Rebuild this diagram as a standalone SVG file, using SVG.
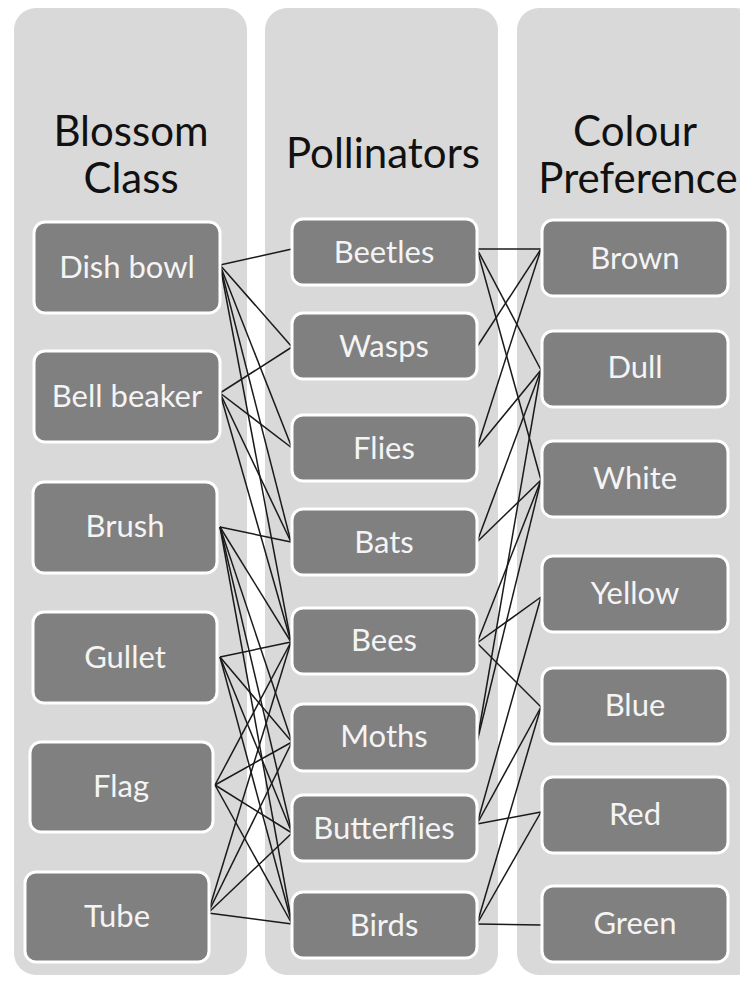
<svg xmlns="http://www.w3.org/2000/svg" width="740" height="981" viewBox="0 0 740 981">
<style>
.panel{fill:#d9d9d9}
.node{fill:#808080;stroke:#ffffff;stroke-width:3}
.hd{font-family:Lato,"Liberation Sans",sans-serif;font-size:42px;fill:#111111;text-anchor:middle}
.lb{font-family:Lato,"Liberation Sans",sans-serif;font-size:31px;fill:#f4f4f4;text-anchor:middle}
.cn line{stroke:#1a1a1a;stroke-width:1.5}
</style>
<rect width="740" height="981" fill="#ffffff"/>
<g id="panels">
<rect class="panel" x="14" y="8" width="233" height="967" rx="22"/>
<rect class="panel" x="265" y="8" width="233" height="967" rx="22"/>
<rect class="panel" x="517" y="8" width="240" height="967" rx="22"/>
</g>
<g id="headers">
<text class="hd" x="131" y="146">Blossom</text>
<text class="hd" x="131" y="193">Class</text>
<text class="hd" x="383" y="168">Pollinators</text>
<text class="hd" x="635" y="146">Colour</text>
<text class="hd" x="638" y="193">Preference</text>
</g>
<g class="cn" id="connectors">
<line x1="220" y1="265" x2="292" y2="249"/>
<line x1="220" y1="265" x2="292" y2="347"/>
<line x1="220" y1="265" x2="292" y2="448"/>
<line x1="220" y1="265" x2="291" y2="542"/>
<line x1="220" y1="265" x2="291" y2="642"/>
<line x1="220" y1="393" x2="292" y2="347"/>
<line x1="220" y1="393" x2="292" y2="448"/>
<line x1="220" y1="393" x2="291" y2="542"/>
<line x1="220" y1="393" x2="291" y2="642"/>
<line x1="220" y1="527" x2="291" y2="542"/>
<line x1="220" y1="527" x2="291" y2="642"/>
<line x1="220" y1="527" x2="292" y2="742"/>
<line x1="220" y1="527" x2="292" y2="833"/>
<line x1="220" y1="527" x2="292" y2="924"/>
<line x1="220" y1="657" x2="291" y2="642"/>
<line x1="220" y1="657" x2="292" y2="742"/>
<line x1="220" y1="657" x2="292" y2="833"/>
<line x1="220" y1="657" x2="292" y2="924"/>
<line x1="215" y1="785" x2="291" y2="642"/>
<line x1="215" y1="785" x2="292" y2="742"/>
<line x1="215" y1="785" x2="292" y2="833"/>
<line x1="215" y1="785" x2="292" y2="924"/>
<line x1="208" y1="913" x2="291" y2="642"/>
<line x1="208" y1="913" x2="292" y2="742"/>
<line x1="208" y1="913" x2="292" y2="833"/>
<line x1="208" y1="913" x2="292" y2="924"/>
<line x1="477" y1="249" x2="541" y2="249"/>
<line x1="477" y1="249" x2="541" y2="370"/>
<line x1="477" y1="249" x2="541" y2="480"/>
<line x1="477" y1="347" x2="541" y2="249"/>
<line x1="477" y1="448" x2="541" y2="249"/>
<line x1="477" y1="448" x2="541" y2="370"/>
<line x1="477" y1="542" x2="541" y2="370"/>
<line x1="477" y1="542" x2="541" y2="480"/>
<line x1="477" y1="643" x2="541" y2="480"/>
<line x1="477" y1="643" x2="541" y2="597"/>
<line x1="477" y1="643" x2="541" y2="707"/>
<line x1="477" y1="742" x2="541" y2="370"/>
<line x1="477" y1="742" x2="541" y2="480"/>
<line x1="477" y1="824" x2="541" y2="597"/>
<line x1="477" y1="824" x2="541" y2="707"/>
<line x1="477" y1="824" x2="541" y2="812"/>
<line x1="477" y1="924" x2="541" y2="707"/>
<line x1="477" y1="924" x2="541" y2="812"/>
<line x1="477" y1="924" x2="541" y2="925"/>
</g>
<g id="n-dishbowl"><rect class="node" x="34" y="222" width="186" height="91" rx="11"/><text class="lb" x="127" y="278">Dish bowl</text></g>
<g id="n-bellbeaker"><rect class="node" x="34" y="351" width="186" height="91" rx="11"/><text class="lb" x="127" y="407">Bell beaker</text></g>
<g id="n-brush"><rect class="node" x="33" y="482" width="184" height="91" rx="11"/><text class="lb" x="125" y="537">Brush</text></g>
<g id="n-gullet"><rect class="node" x="33" y="612" width="184" height="91" rx="11"/><text class="lb" x="125" y="668">Gullet</text></g>
<g id="n-flag"><rect class="node" x="30" y="742" width="183" height="90" rx="11"/><text class="lb" x="121" y="797">Flag</text></g>
<g id="n-tube"><rect class="node" x="25" y="872" width="184" height="90" rx="11"/><text class="lb" x="117" y="927">Tube</text></g>
<g id="n-beetles"><rect class="node" x="292" y="219" width="185" height="66" rx="11"/><text class="lb" x="384" y="263">Beetles</text></g>
<g id="n-wasps"><rect class="node" x="292" y="313" width="185" height="66" rx="11"/><text class="lb" x="384" y="357">Wasps</text></g>
<g id="n-flies"><rect class="node" x="292" y="415" width="185" height="66" rx="11"/><text class="lb" x="384" y="459">Flies</text></g>
<g id="n-bats"><rect class="node" x="292" y="509" width="185" height="66" rx="11"/><text class="lb" x="384" y="553">Bats</text></g>
<g id="n-bees"><rect class="node" x="292" y="608" width="185" height="66" rx="11"/><text class="lb" x="384" y="651">Bees</text></g>
<g id="n-moths"><rect class="node" x="292" y="704" width="185" height="67" rx="11"/><text class="lb" x="384" y="747">Moths</text></g>
<g id="n-butterflies"><rect class="node" x="292" y="795" width="185" height="66" rx="11"/><text class="lb" x="384" y="839">Butterflies</text></g>
<g id="n-birds"><rect class="node" x="292" y="892" width="185" height="66" rx="11"/><text class="lb" x="384" y="936">Birds</text></g>
<g id="n-brown"><rect class="node" x="542" y="220" width="186" height="76" rx="11"/><text class="lb" x="635" y="269">Brown</text></g>
<g id="n-dull"><rect class="node" x="542" y="331" width="186" height="76" rx="11"/><text class="lb" x="635" y="378">Dull</text></g>
<g id="n-white"><rect class="node" x="542" y="441" width="186" height="76" rx="11"/><text class="lb" x="635" y="489">White</text></g>
<g id="n-yellow"><rect class="node" x="542" y="556" width="186" height="76" rx="11"/><text class="lb" x="635" y="604">Yellow</text></g>
<g id="n-blue"><rect class="node" x="542" y="668" width="186" height="76" rx="11"/><text class="lb" x="635" y="716">Blue</text></g>
<g id="n-red"><rect class="node" x="542" y="777" width="186" height="76" rx="11"/><text class="lb" x="635" y="825">Red</text></g>
<g id="n-green"><rect class="node" x="542" y="886" width="186" height="76" rx="11"/><text class="lb" x="635" y="934">Green</text></g>
</svg>
